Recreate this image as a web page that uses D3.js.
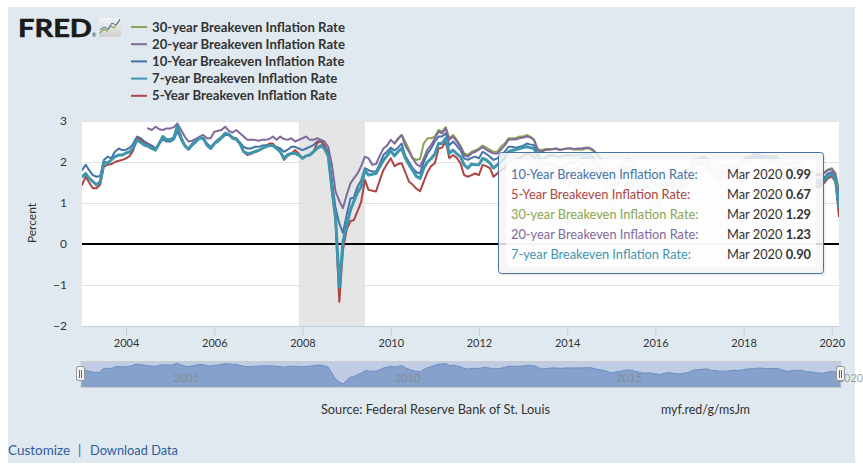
<!DOCTYPE html>
<html><head><meta charset="utf-8">
<script src="https://cdn.jsdelivr.net/npm/d3@7"></script>
<style>
html,body{margin:0;padding:0;background:#fff;}
svg{display:block;}
text{font-family:"Lato","Open Sans",sans-serif;}
</style></head>
<body><svg id="c" width="863" height="467"></svg>
<script>
// ---------------- DATA (monthly, Jan 2003 .. Mar 2020) ----------------
const startMonth = "2003-01";
const endMonth = "2020-03";
const seriesNames = ["10-Year Breakeven Inflation Rate","5-Year Breakeven Inflation Rate","30-year Breakeven Inflation Rate","20-year Breakeven Inflation Rate","7-year Breakeven Inflation Rate"];
const legendOrder = ["30-year Breakeven Inflation Rate","20-year Breakeven Inflation Rate","10-Year Breakeven Inflation Rate","7-year Breakeven Inflation Rate","5-Year Breakeven Inflation Rate"];
const t10 = [
1.80,1.93,1.80,1.68,1.64,1.66,2.05,2.13,2.09,2.25,2.33,2.29,
2.30,2.35,2.45,2.62,2.58,2.50,2.45,2.40,2.33,2.45,2.55,2.50,
2.50,2.55,2.75,2.55,2.40,2.33,2.40,2.48,2.58,2.58,2.45,2.37,
2.45,2.50,2.58,2.66,2.66,2.60,2.58,2.48,2.37,2.33,2.33,2.37,
2.37,2.40,2.41,2.41,2.40,2.37,2.33,2.25,2.30,2.37,2.37,2.33,
2.29,2.33,2.37,2.41,2.50,2.50,2.40,2.25,1.55,0.87,0.50,0.27,
0.71,1.11,1.13,1.40,1.55,1.85,1.80,1.77,1.77,1.95,2.17,2.25,
2.35,2.28,2.35,2.45,2.15,2.00,1.85,1.75,1.72,2.00,2.20,2.33,
2.50,2.62,2.62,2.70,2.41,2.50,2.40,2.29,2.09,2.05,2.10,2.13,
2.09,2.25,2.20,2.13,2.05,2.09,2.15,2.25,2.37,2.37,2.35,2.37,
2.40,2.45,2.43,2.41,2.21,2.05,2.10,2.15,2.17,2.15,2.12,2.15,
2.17,2.17,2.15,2.17,2.17,2.20,2.20,2.12,2.00,1.92,1.85,1.68,
1.60,1.71,1.76,1.85,1.91,1.90,1.81,1.70,1.59,1.54,1.60,1.52,
1.44,1.38,1.52,1.61,1.59,1.49,1.47,1.51,1.59,1.68,1.91,1.96,
2.00,2.04,2.02,1.87,1.86,1.75,1.81,1.79,1.84,1.88,1.87,1.90,
2.00,2.06,2.06,2.14,2.16,2.11,2.10,2.09,2.11,2.08,1.93,1.80,
1.78,1.88,1.88,1.89,1.82,1.69,1.70,1.61,1.56,1.55,1.62,1.72,
1.75,1.62,0.99];
const t5 = [
1.44,1.64,1.50,1.36,1.36,1.45,1.89,1.93,1.95,2.00,2.03,2.05,
2.09,2.15,2.29,2.58,2.55,2.45,2.40,2.35,2.30,2.45,2.60,2.55,
2.55,2.60,2.88,2.60,2.40,2.33,2.45,2.55,2.60,2.58,2.40,2.33,
2.45,2.54,2.60,2.70,2.68,2.60,2.58,2.45,2.25,2.17,2.20,2.25,
2.28,2.33,2.37,2.45,2.45,2.33,2.25,2.05,2.15,2.21,2.29,2.20,
2.09,2.15,2.17,2.25,2.45,2.54,2.40,2.15,1.28,0.55,-1.41,-0.15,
0.35,0.56,0.58,0.80,1.03,1.56,1.32,1.30,1.28,1.55,1.80,1.95,
2.09,1.90,1.95,1.97,1.75,1.52,1.45,1.35,1.29,1.52,1.75,1.90,
1.97,2.33,2.35,2.50,2.09,2.17,2.10,1.97,1.68,1.64,1.68,1.72,
1.68,1.93,1.90,1.85,1.64,1.72,1.80,1.85,2.00,2.05,2.05,2.09,
2.15,2.21,2.18,2.13,1.93,1.65,1.60,1.65,1.65,1.60,1.55,1.58,
1.65,1.70,1.75,1.85,1.95,2.00,1.95,1.85,1.72,1.55,1.50,1.20,
1.05,1.30,1.50,1.60,1.70,1.65,1.45,1.30,1.20,1.20,1.25,1.15,
1.05,0.95,1.25,1.40,1.45,1.30,1.25,1.30,1.40,1.55,1.80,1.90,
1.95,1.95,1.95,1.75,1.70,1.55,1.65,1.70,1.75,1.80,1.80,1.85,
1.97,2.02,2.02,2.09,2.10,2.06,2.05,2.04,2.04,1.97,1.75,1.58,
1.58,1.75,1.77,1.76,1.67,1.50,1.55,1.42,1.40,1.40,1.50,1.60,
1.65,1.52,0.67];
const t7 = [
1.64,1.72,1.60,1.52,1.44,1.52,2.00,1.97,2.05,2.13,2.17,2.17,
2.22,2.25,2.35,2.54,2.48,2.41,2.38,2.33,2.29,2.45,2.62,2.55,
2.54,2.60,2.88,2.58,2.40,2.31,2.42,2.52,2.58,2.58,2.42,2.33,
2.45,2.54,2.60,2.70,2.68,2.58,2.55,2.45,2.25,2.21,2.22,2.25,
2.28,2.33,2.37,2.40,2.40,2.33,2.25,2.09,2.18,2.21,2.21,2.17,
2.09,2.15,2.17,2.25,2.33,2.40,2.33,2.15,1.36,0.65,-1.05,0.05,
0.45,0.83,1.04,1.25,1.40,1.80,1.68,1.70,1.72,1.88,2.04,2.15,
2.28,2.15,2.25,2.33,2.10,1.93,1.80,1.65,1.60,1.85,2.00,2.08,
2.20,2.45,2.45,2.58,2.21,2.29,2.20,2.13,1.93,1.85,1.95,1.93,
1.93,2.09,2.05,1.97,1.85,1.93,2.00,2.10,2.25,2.28,2.30,2.33,
2.35,2.37,2.35,2.33,2.17,1.90,1.90,1.95,1.95,1.92,1.88,1.90,
1.95,1.97,1.98,2.03,2.07,2.12,2.10,2.02,1.90,1.78,1.70,1.50,
1.38,1.55,1.65,1.75,1.82,1.80,1.65,1.52,1.40,1.38,1.45,1.35,
1.25,1.15,1.40,1.52,1.52,1.40,1.38,1.42,1.50,1.62,1.87,1.93,
1.97,2.00,1.99,1.82,1.80,1.67,1.75,1.75,1.80,1.85,1.85,1.88,
1.99,2.05,2.05,2.12,2.14,2.09,2.08,2.07,2.08,2.03,1.85,1.70,
1.68,1.82,1.83,1.83,1.75,1.60,1.63,1.52,1.48,1.48,1.56,1.66,
1.70,1.58,0.90];
const t20 = [
null,null,null,null,null,null,null,null,null,null,null,null,
null,null,null,null,null,null,2.82,2.78,2.86,2.80,2.78,2.82,
2.82,2.85,2.94,2.78,2.62,2.50,2.52,2.56,2.62,2.66,2.58,2.58,
2.74,2.76,2.78,2.86,2.76,2.72,2.78,2.70,2.62,2.54,2.54,2.54,
2.52,2.54,2.54,2.56,2.62,2.54,2.62,2.56,2.54,2.58,2.50,2.54,
2.58,2.62,2.54,2.54,2.58,2.54,2.50,2.37,1.93,1.28,1.05,0.87,
1.20,1.48,1.60,1.72,1.90,2.13,2.09,1.93,1.95,2.15,2.33,2.40,
2.54,2.45,2.55,2.66,2.40,2.25,2.09,1.95,1.89,2.09,2.30,2.41,
2.58,2.74,2.70,2.82,2.54,2.62,2.50,2.37,2.17,2.13,2.21,2.25,
2.30,2.37,2.30,2.25,2.21,2.21,2.30,2.40,2.54,2.55,2.55,2.58,
2.60,2.62,2.60,2.54,2.29,2.25,2.29,2.30,2.31,2.33,2.29,2.31,
2.33,2.33,2.32,2.33,2.33,2.35,2.35,2.30,2.21,2.10,2.00,1.85,
1.75,1.85,1.85,1.95,2.02,2.03,1.95,1.85,1.75,1.70,1.75,1.68,
1.62,1.55,1.68,1.78,1.75,1.65,1.60,1.62,1.70,1.78,2.00,2.05,
2.08,2.12,2.10,1.98,1.98,1.88,1.92,1.90,1.93,1.97,1.97,1.98,
2.07,2.13,2.13,2.20,2.21,2.16,2.15,2.14,2.16,2.14,2.02,1.92,
1.92,1.98,1.98,2.00,1.95,1.82,1.82,1.72,1.68,1.68,1.73,1.80,
1.82,1.70,1.23];
const t30 = [
null,null,null,null,null,null,null,null,null,null,null,null,
null,null,null,null,null,null,null,null,null,null,null,null,
null,null,null,null,null,null,null,null,null,null,null,null,
null,null,null,null,null,null,null,null,null,null,null,null,
null,null,null,null,null,null,null,null,null,null,null,null,
null,null,null,null,null,null,null,null,null,null,null,null,
null,null,null,null,null,null,null,null,null,null,null,null,
null,2.45,2.58,2.66,2.50,2.30,2.10,2.05,2.08,2.45,2.58,2.58,
2.62,2.78,2.74,2.85,2.58,2.66,2.54,2.40,2.21,2.17,2.25,2.28,
2.33,2.40,2.35,2.30,2.25,2.25,2.37,2.45,2.58,2.58,2.58,2.62,
2.62,2.66,2.62,2.55,2.32,2.28,2.32,2.32,2.32,2.33,2.30,2.32,
2.33,2.33,2.30,2.31,2.30,2.33,2.33,2.28,2.20,2.10,2.00,1.87,
1.75,1.85,1.85,1.95,2.05,2.08,2.00,1.90,1.80,1.75,1.80,1.73,
1.68,1.62,1.73,1.83,1.80,1.70,1.65,1.67,1.74,1.82,2.05,2.08,
2.10,2.12,2.10,2.00,2.00,1.90,1.93,1.90,1.93,1.97,1.95,1.95,
2.03,2.10,2.10,2.15,2.16,2.12,2.11,2.10,2.13,2.13,2.03,1.95,
1.93,1.97,1.98,2.00,1.95,1.82,1.83,1.73,1.70,1.70,1.75,1.82,
1.85,1.73,1.29];
const seriesValues = [t10, t5, t30, t20, t7];
const seriesColors = ["#4572A7","#AA4643","#89A54E","#80699B","#3D96AE"];
const yTicks = [-2,-1,0,1,2,3];
const xTickYears = [2004,2006,2008,2010,2012,2014,2016,2018,2020];
const navLabelYears = [2005,2010,2015,2020];
const recession = ["2007-12-01","2009-06-01"];
const tooltipDate = "Mar 2020";
const tooltipValues = ["0.99","0.67","1.29","1.23","0.90"];
const sourceText = "Source: Federal Reserve Bank of St. Louis";
const shortUrl = "myf.red/g/msJm";

// ---------------- BUILD ----------------
const parse = d3.timeParse("%Y-%m");
const dates = d3.timeMonth.range(parse(startMonth), d3.timeMonth.offset(parse(endMonth),1));
const svg = d3.select("#c");

// page background
svg.append("rect").attr("x",8).attr("y",7).attr("width",847).attr("height",456).attr("fill","#E1E9F0");

const L=82,R=839,T=121,B=326;
const x = d3.scaleTime().domain([dates[0], dates[dates.length-1]]).range([L,R]);
const y = d3.scaleLinear().domain([-2,3]).range([B,T]);

svg.append("rect").attr("x",L).attr("y",T).attr("width",R-L).attr("height",B-T).attr("fill","#fff");
const defs = svg.append("defs");
defs.append("clipPath").attr("id","clip").append("rect")
  .attr("x",L).attr("y",T-3).attr("width",R-L).attr("height",B-T+6);

// recession band
svg.append("rect").attr("x",x(new Date(recession[0]+"T00:00"))).attr("y",T)
  .attr("width",x(new Date(recession[1]+"T00:00"))-x(new Date(recession[0]+"T00:00"))).attr("height",B-T)
  .attr("fill","#E5E5E5");

// grid
svg.append("g").selectAll("line").data(yTicks.filter(d=>d!==0)).join("line")
  .attr("x1",L).attr("x2",R).attr("y1",d=>y(d)+0.5).attr("y2",d=>y(d)+0.5)
  .attr("stroke","#E2E2E2").attr("stroke-width",1);

// y axis labels
const yAxis = d3.axisLeft(y).tickValues(yTicks).tickSize(0).tickPadding(15).tickFormat(d3.format("d"));
const gy = svg.append("g").attr("transform",`translate(${L},0)`).call(yAxis);
gy.select(".domain").remove();
gy.selectAll("text").attr("font-size",12).attr("fill","#333").attr("font-family","Open Sans, sans-serif");

svg.append("text").attr("transform","translate(36,223) rotate(-90)").attr("text-anchor","middle")
  .attr("font-size",12).attr("fill","#333").attr("font-family","Open Sans, sans-serif").text("Percent");

// x axis
const xAxis = d3.axisBottom(x).tickValues(xTickYears.map(yy=>new Date(yy,0,1))).tickSize(10).tickPadding(3).tickFormat(d3.timeFormat("%Y"));
const gx = svg.append("g").attr("transform",`translate(0,${B})`).call(xAxis);
gx.select(".domain").attr("stroke","#C0D0E0").attr("d",`M${L},0.5H${R}`);
gx.selectAll(".tick line").attr("stroke","#C0D0E0");
gx.selectAll("text").attr("font-size",11).attr("fill","#333").attr("font-family","Open Sans, sans-serif");

// zero line
svg.append("line").attr("x1",L).attr("x2",R).attr("y1",y(0)).attr("y2",y(0)).attr("stroke","#000").attr("stroke-width",2);

// series lines
const line = d3.line().defined(d=>d!=null).x((d,i)=>x(dates[i])).y(d=>y(d));
const gl = svg.append("g").attr("clip-path","url(#clip)");
seriesValues.forEach((vals,k)=>{
  gl.append("path").attr("d",line(vals)).attr("fill","none")
    .attr("stroke",seriesColors[k]).attr("stroke-width",k===4?3:2)
    .attr("stroke-linejoin","round").attr("stroke-linecap","round");
});

// tooltip
const tt = svg.append("g");
tt.append("rect").attr("x",500).attr("y",154).attr("width",326).attr("height",122).attr("rx",3)
  .attr("fill","rgba(0,0,0,0.06)");
tt.append("rect").attr("x",498.5).attr("y",152.5).attr("width",325).attr("height",121).attr("rx",3)
  .attr("fill","rgba(247,247,247,0.85)").attr("stroke","#4572A7").attr("stroke-width",1);
tt.append("rect").attr("x",506).attr("y",159).attr("width",310).attr("height",108)
  .attr("fill","rgba(255,255,255,0.75)");
seriesNames.forEach((nm,k)=>{
  const by = 178.5 + k*20;
  tt.append("text").attr("x",511).attr("y",by).attr("font-size",12.8).attr("fill",seriesColors[k]).text(nm+":");
  const t = tt.append("text").attr("x",811).attr("y",by).attr("font-size",12.8).attr("text-anchor","end").attr("fill","#333");
  t.append("tspan").text(tooltipDate+" ");
  t.append("tspan").attr("font-weight","bold").text(tooltipValues[k]);
});

// logo
const lg = svg.append("g");
lg.append("text").attr("x",18).attr("y",37).attr("font-family","DejaVu Sans, sans-serif")
  .attr("font-weight","bold").attr("font-size",25).attr("fill","#1a1a1a").attr("stroke","#1a1a1a").attr("stroke-width",0.6)
  .attr("textLength",74).attr("lengthAdjust","spacingAndGlyphs").text("FRED");
lg.append("text").attr("x",92).attr("y",37).attr("font-size",5).attr("fill","#222").text("®");
const grad = defs.append("linearGradient").attr("id","lg").attr("x1",0).attr("y1",0).attr("x2",0).attr("y2",1);
grad.append("stop").attr("offset",0).attr("stop-color","#f4f4f4");
grad.append("stop").attr("offset",1).attr("stop-color","#cfcfcf");
lg.append("rect").attr("x",99).attr("y",18).attr("width",22).attr("height",19).attr("fill","url(#lg)");
lg.append("path").attr("d","M100,33 L104,29 L107,31 L111,26 L114,28 L120,20").attr("fill","none").attr("stroke","#89A54E").attr("stroke-width",1.2);
lg.append("path").attr("d","M100,30 L104,27 L108,29 L112,23 L116,25 L120,19").attr("fill","none").attr("stroke","#4572A7").attr("stroke-width",1);

// legend
legendOrder.forEach((nm,i)=>{
  const k = seriesNames.indexOf(nm);
  const ly = 27 + i*17.2;
  svg.append("line").attr("x1",131).attr("x2",147).attr("y1",ly).attr("y2",ly).attr("stroke",seriesColors[k]).attr("stroke-width",2);
  svg.append("text").attr("x",152).attr("y",ly+4.5).attr("font-size",13.2).attr("font-weight","bold").attr("fill","#333").text(nm);
});

// navigator
const NL=81,NR=841,NT=361,NB=387;
const nx = d3.scaleTime().domain(x.domain()).range([NL,NR]);
const ny = d3.scaleLinear().domain(d3.extent(t10)).range([384,363]);
svg.append("rect").attr("x",NL).attr("y",NT).attr("width",NR-NL).attr("height",NB-NT).attr("fill","#BFCCE4");
svg.append("path").attr("d",d3.area().x((d,i)=>nx(dates[i])).y0(NB).y1(d=>ny(d))(t10)).attr("fill","#86A1CC");
svg.append("path").attr("d",d3.line().x((d,i)=>nx(dates[i])).y(d=>ny(d))(t10)).attr("fill","none").attr("stroke","#6C8EC3").attr("stroke-width",1);
svg.append("rect").attr("x",NL).attr("y",NT+0.5).attr("width",NR-NL).attr("height",NB-NT).attr("fill","none").attr("stroke","#cccccc");
svg.append("g").selectAll("text").data(navLabelYears).join("text")
  .attr("x",d=>nx(new Date(d,0,1))+4).attr("y",382).attr("font-size",11).attr("fill","#888").attr("fill-opacity",0.8)
  .attr("font-family","Open Sans, sans-serif").text(d=>d);
[NL,NR].forEach(hx=>{
  svg.append("rect").attr("x",hx-4.5).attr("y",366.5).attr("width",8).attr("height",14).attr("rx",1.5)
    .attr("fill","#f2f2f2").attr("stroke","#999");
  svg.append("path").attr("d",`M${hx-1.5},370V378M${hx+0.5},370V378`).attr("stroke","#666").attr("stroke-width",1);
});

// footer
function fitText(sel,w){ sel.attr("textLength",w).attr("lengthAdjust","spacingAndGlyphs"); return sel; }
fitText(svg.append("text").attr("x",321).attr("y",414).attr("font-size",13).attr("fill","#333").text(sourceText),229);
fitText(svg.append("text").attr("x",661).attr("y",414).attr("font-size",13).attr("fill","#333").text(shortUrl),89);
fitText(svg.append("text").attr("x",8).attr("y",455).attr("font-size",13).attr("fill","#2E5C9C").text("Customize"),62);
svg.append("text").attr("x",78).attr("y",455).attr("font-size",13).attr("fill","#2E5C9C").text("|");
fitText(svg.append("text").attr("x",90).attr("y",455).attr("font-size",13).attr("fill","#2E5C9C").text("Download Data"),88);
</script></body></html>
